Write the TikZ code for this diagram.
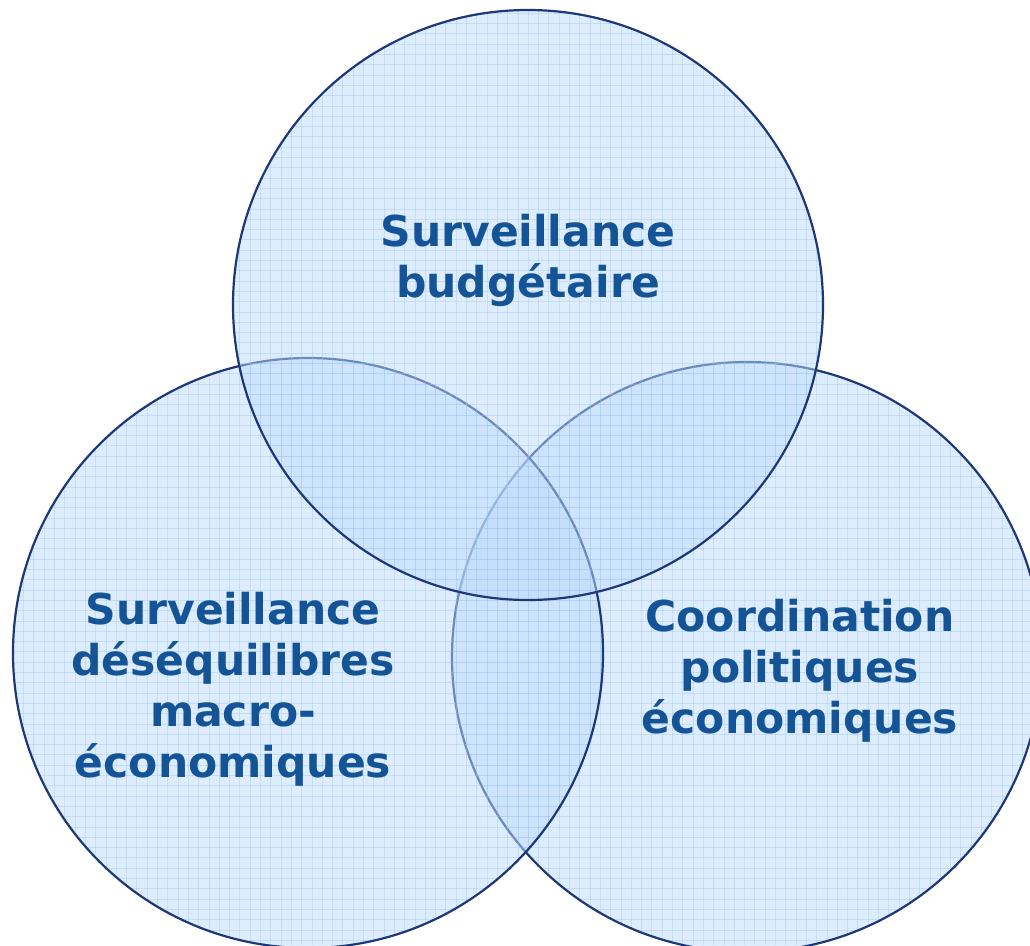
\documentclass[tikz,border=0pt]{standalone}
\usepackage{fontspec}
\setmainfont{DejaVu Sans}
\definecolor{vfill}{RGB}{189,219,251}
\definecolor{vline}{RGB}{30,55,120}
\definecolor{vtext}{RGB}{20,84,150}
\definecolor{vgrid}{RGB}{150,195,245}
\tikzset{
  lbl/.style={font=\bfseries\fontsize{42.5}{51}\selectfont, text=vtext, align=center, inner sep=0pt},
  ring/.style={draw=vline, line width=2.2pt},
  gridline/.style={draw=vgrid, opacity=0.35, line width=0.9pt},
}
\newcommand{\venncircle}[1]{%
  \begin{scope}
    \clip (#1) circle (295);
    \fill[vfill, fill opacity=0.5] (#1) circle (295);
    \foreach \gx in {3,13.3,...,1030} {\draw[gridline] (\gx,0) -- (\gx,945);}
    \foreach \gy in {3,13.3,...,945} {\draw[gridline] (0,\gy) -- (1030,\gy);}
  \end{scope}
  \draw[ring] (#1) circle (295);
}
\begin{document}
\begin{tikzpicture}[x=1pt,y=-1pt]
\useasboundingbox (0,0) rectangle (1030,945);
\coordinate (cR) at (747,657);
\coordinate (cL) at (308,653);
\coordinate (cT) at (528,305);
\venncircle{cR}
\venncircle{cL}
\venncircle{cT}
\node[lbl] (tT) at (528,260) {Surveillance\\budgétaire};
\node[lbl] (tL) at (233,689) {Surveillance\\déséquilibres\\macro-\\économiques};
\node[lbl] (tR) at (800,671) {Coordination\\politiques\\économiques};
\end{tikzpicture}
\end{document}
